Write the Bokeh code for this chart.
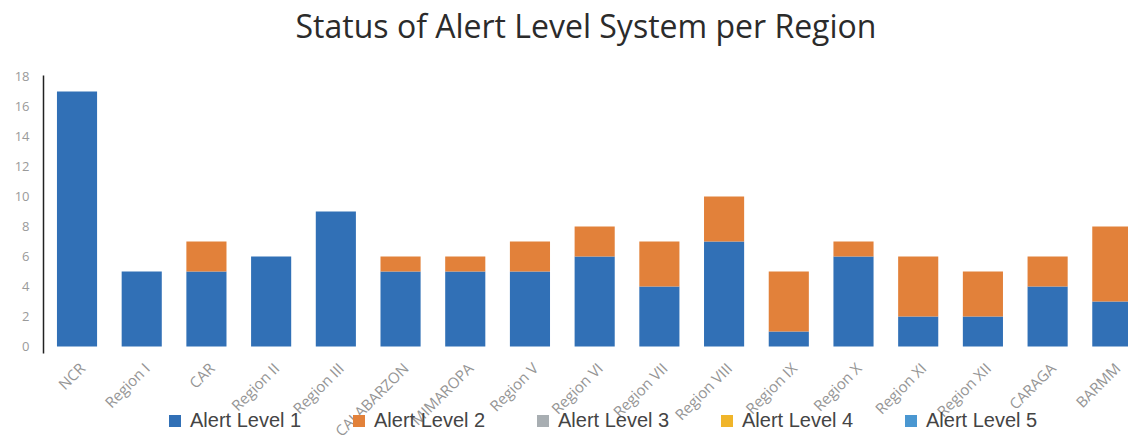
from bokeh.plotting import figure
from bokeh.models import Range1d, FixedTicker, Legend, ColumnDataSource, Label
from bokeh.core.properties import value
from bokeh.embed import file_html
from bokeh.resources import INLINE
import math

regions = ["NCR", "Region I", "CAR", "Region II", "Region III", "CALABARZON", "MIMAROPA",
           "Region V", "Region VI", "Region VII", "Region VIII", "Region IX", "Region X",
           "Region XI", "Region XII", "CARAGA", "BARMM"]
level1 = [17, 5, 5, 6, 9, 5, 5, 5, 6, 4, 7, 1, 6, 2, 2, 4, 3]
level2 = [0, 0, 2, 0, 0, 1, 1, 2, 2, 3, 3, 4, 1, 4, 3, 2, 5]
level3 = [0] * 17
level4 = [0] * 17
level5 = [0] * 17
series_names = ["Alert Level 1", "Alert Level 2", "Alert Level 3", "Alert Level 4", "Alert Level 5"]
colors = ["#3170b6", "#e2813a", "#a8aeb2", "#f0b52a", "#4a97d1"]
y_ticks = [0, 2, 4, 6, 8, 10, 12, 14, 16, 18]
title_text = "Status of Alert Level System per Region"

W, H = 1128, 445
LEFT = 43
PX_PER_Y = 15.0          # pixels per unit on the value axis
ZERO_PX = 346            # pixel row of value 0
y_end = 18 + (ZERO_PX - 18 * PX_PER_Y) / PX_PER_Y
y_start = y_end - H / PX_PER_Y
x_start, x_end = -0.518, 16.25

xs = list(range(len(regions)))
src = ColumnDataSource(dict(x=xs, name=regions, l1=level1, l2=level2,
                            l3=level3, l4=level4, l5=level5))

p = figure(width=W, height=H, output_backend="svg", toolbar_location=None,
           x_range=Range1d(x_start, x_end), y_range=Range1d(y_start, y_end),
           x_axis_location=None,
           min_border_left=LEFT, min_border_right=0, min_border_top=0, min_border_bottom=0)
p.outline_line_color = None
p.background_fill_color = "white"
p.border_fill_color = "white"

rs = p.vbar_stack(["l1", "l2", "l3", "l4", "l5"], x="x", width=0.62, color=colors,
                  line_width=0, source=src)

# title, centred over the plotting area
p.add_layout(Label(x=(x_start + x_end) / 2, y=y_end - 25 / PX_PER_Y, text=title_text,
                   text_align="center", text_baseline="alphabetic",
                   text_font="Open Sans", text_font_size="32px", text_color="#2b2b2b"))

# category labels, rotated like the reference
p.text(x="x", y=-1.25, text="name", source=src, angle=math.pi / 4,
       x_offset=5, text_align="right", text_baseline="middle",
       text_font=value("Open Sans"), text_font_size="15px", text_color="#959595")

p.xgrid.grid_line_color = None
p.ygrid.grid_line_color = None

p.yaxis.ticker = FixedTicker(ticks=y_ticks)
p.yaxis.bounds = (-0.45, 18.1)
p.yaxis.axis_line_color = "#222222"
p.yaxis.axis_line_width = 1.5
p.yaxis.major_tick_line_color = None
p.yaxis.major_tick_out = 0
p.yaxis.major_tick_in = 0
p.yaxis.minor_tick_line_color = None
p.yaxis.major_label_standoff = 14
p.yaxis.major_label_text_font = "Open Sans"
p.yaxis.major_label_text_font_size = "13px"
p.yaxis.major_label_text_color = "#9a9a9a"

legend = Legend(items=[(n, [r]) for n, r in zip(series_names, rs)],
                orientation="horizontal", location=(124, 13))
legend.glyph_width = 15
legend.glyph_height = 15
legend.label_standoff = 8
legend.label_width = 140
legend.spacing = 21
legend.padding = 0
legend.margin = 0
legend.border_line_alpha = 0
legend.background_fill_alpha = 0
legend.label_text_font = "Liberation Sans"
legend.label_text_font_size = "20px"
legend.label_text_color = "#444444"
legend.label_height = 15
p.add_layout(legend, "center")

open("out.html", "w").write(file_html(p, INLINE))
